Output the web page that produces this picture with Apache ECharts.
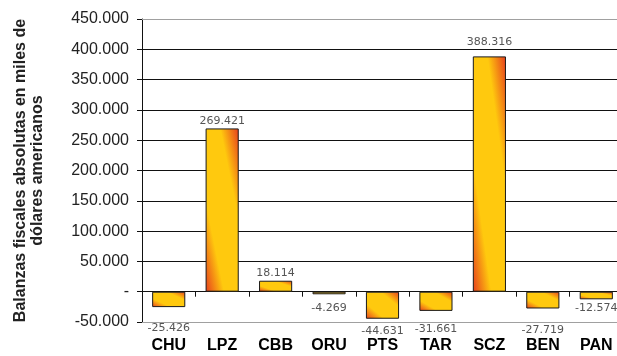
<!DOCTYPE html>
<html lang="es">
<head>
  <meta charset="UTF-8">
  <title>Balanzas fiscales</title>
  <script src="https://cdn.jsdelivr.net/npm/echarts@6/dist/echarts.min.js"></script>
  <style>
    html, body { margin: 0; padding: 0; background: #fff; }
    #chart { width: 617px; height: 356px; }
  </style>
</head>
<body>
<div id="chart"></div>
<script>
  // departamentos
  var categories = ['CHU', 'LPZ', 'CBB', 'ORU', 'PTS', 'TAR', 'SCZ', 'BEN', 'PAN']
  // balanza fiscal, miles de dólares (x1000 to keep the dot formatting)
  var balances = [-25426, 269421, 18114, -4269, -44631, -31661, 388316, -27719, -12574]
  var yTicks = { min: -50000, max: 450000, step: 50000 }

  // gap between bar end and value label (px), Excel put them a bit unevenly
  var labelGap = [16, 2, 2, 8, 7, 13, 9, 16, 3]

  function fmt(v) {
    if (v === 0) return '-'
    var s = Math.abs(v).toString()
    var out = s.replace(/\B(?=(\d{3})+(?!\d))/g, '.')
    return (v < 0 ? '-' : '') + out
  }

  var RED = '#e63d1d', YEL = '#ffc90e'
  var BAR_PCT = 0.62

  // excel-ish fill: red in bottom-left / top-right corners, yellow along the other diagonal
  function barFill(w, h) {
    var L2 = w * w + h * h
    var a = h * h / L2, b = w * w / L2
    return new echarts.graphic.LinearGradient(0.5 - a, 0.5 + b, 0.5 + a, 0.5 - b, [
      { offset: 0, color: RED },
      { offset: 0.28, color: YEL },
      { offset: 0.72, color: YEL },
      { offset: 1, color: RED }
    ])
  }

  var chart = echarts.init(document.getElementById('chart'), null, { renderer: 'canvas' })

  var labelFont = { color: '#000', fontFamily: 'Liberation Sans', fontWeight: 'bold', fontSize: 16 }

  var option = {
    animation: false,
    // plot runs a few px past the right edge, like the cropped original
    grid: { left: 142, right: -6, top: 19, bottom: 34, outerBoundsMode: 'none', containLabel: false },
    xAxis: [{
      // axis on the zero line, ticks only
      type: 'category',
      data: categories,
      axisLine: { onZero: true, lineStyle: { color: '#111', width: 1 } },
      axisTick: { show: true, length: 5, lineStyle: { color: '#111' } },
      axisLabel: { show: false }
    }, {
      // bottom edge carries the names
      type: 'category',
      data: categories,
      position: 'bottom',
      axisLine: { onZero: false, show: true, lineStyle: { color: '#a0a0a0' } },
      axisTick: { show: false },
      axisLabel: Object.assign({ margin: 16 }, labelFont)
    }, {
      type: 'category',
      data: categories,
      position: 'top',
      axisLine: { onZero: false, show: true, lineStyle: { color: '#a0a0a0' } },
      axisTick: { show: false },
      axisLabel: { show: false }
    }],
    yAxis: {
      type: 'value',
      min: yTicks.min,
      max: yTicks.max,
      interval: yTicks.step,
      name: 'Balanzas fiscales absolutas en miles de\ndólares americanos',
      nameLocation: 'middle',
      nameGap: 96,
      nameTextStyle: {
        color: '#222',
        fontFamily: 'Liberation Sans',
        fontWeight: 'bold',
        fontSize: 16,
        lineHeight: 17,
        align: 'center'
      },
      axisLine: { show: true, lineStyle: { color: '#111' } },
      axisTick: { show: true, length: 5, lineStyle: { color: '#111' } },
      axisLabel: {
        margin: 13,
        color: '#222',
        fontFamily: 'Liberation Sans',
        fontSize: 16,
        formatter: fmt
      },
      splitLine: { show: true, lineStyle: { color: '#111', width: 1, type: 'solid' } }
    },
    series: [{
      type: 'bar',
      xAxisIndex: 0,
      barWidth: (BAR_PCT * 100) + '%',
      data: balances.map(function (v, i) {
        return {
          value: v,
          label: { distance: labelGap[i], position: v < 0 ? 'bottom' : 'top' }
        }
      }),
      itemStyle: { color: YEL, borderColor: '#1a1a1a', borderWidth: 1 },
      label: {
        show: true,
        color: '#555',
        fontFamily: 'DejaVu Sans',
        fontSize: 11,
        formatter: function (p) { return fmt(p.value) }
      }
    }]
  }

  chart.setOption(option)

  // second pass: per-bar gradient sized from the real bar pixels
  var zeroY = chart.convertToPixel({ yAxisIndex: 0 }, 0)
  var barW = (chart.convertToPixel({ xAxisIndex: 0 }, categories[1]) -
              chart.convertToPixel({ xAxisIndex: 0 }, categories[0])) * BAR_PCT
  chart.setOption({
    series: [{
      data: balances.map(function (v, i) {
        var h = Math.max(2, Math.abs(chart.convertToPixel({ yAxisIndex: 0 }, v) - zeroY))
        return {
          value: v,
          itemStyle: { color: barFill(barW, h) },
          label: { distance: labelGap[i], position: v < 0 ? 'bottom' : 'top' }
        }
      })
    }]
  })

  window.addEventListener('resize', chart.resize)
</script>
</body>
</html>
